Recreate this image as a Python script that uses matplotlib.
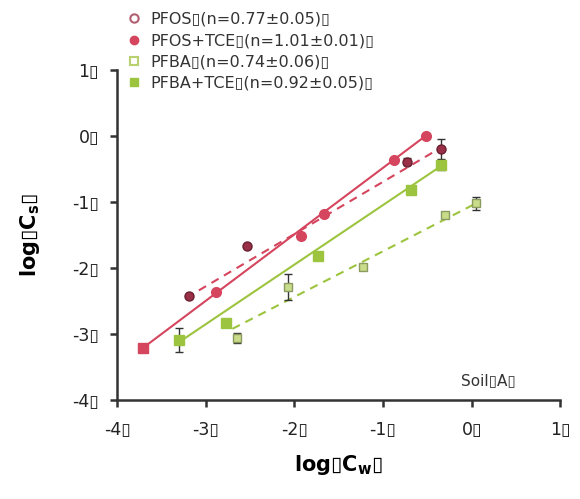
import matplotlib
matplotlib.use("Agg")
import matplotlib.pyplot as plt

B = "\u25AF"

# data
pfos_x = [-3.19, -2.53, -0.73, -0.35]
pfos_y = [-2.42, -1.67, -0.39, -0.20]
pfos_err = [0.0, 0.0, 0.05, 0.15]
pfos_line_x = [-3.22, -0.35]
pfos_line_y = [-2.45, -0.18]

pfostce_x = [-3.71, -2.89, -1.93, -1.67, -0.88, -0.52]
pfostce_y = [-3.21, -2.36, -1.52, -1.18, -0.36, 0.00]
pfostce_line_x = [-3.71, -0.52]
pfostce_line_y = [-3.21, 0.00]

pfba_x = [-2.65, -2.07, -1.23, -0.30, 0.05]
pfba_y = [-3.06, -2.29, -1.98, -1.20, -1.02]
pfba_err = [0.08, 0.20, 0.03, 0.04, 0.10]
pfba_line_x = [-2.70, 0.05]
pfba_line_y = [-2.92, -1.02]

pfbatce_x = [-3.30, -2.77, -1.73, -0.69, -0.35]
pfbatce_y = [-3.09, -2.83, -1.82, -0.82, -0.44]
pfbatce_err = [0.18, 0.03, 0.03, 0.03, 0.08]
pfbatce_line_x = [-3.30, -0.35]
pfbatce_line_y = [-3.12, -0.46]

labels = ["PFOS" + B + "(n=0.77\u00b10.05)" + B,
          "PFOS+TCE" + B + "(n=1.01\u00b10.01)" + B,
          "PFBA" + B + "(n=0.74\u00b10.06)" + B,
          "PFBA+TCE" + B + "(n=0.92\u00b10.05)" + B]

xticks = [-4, -3, -2, -1, 0, 1]
yticks = [-4, -3, -2, -1, 0, 1]

red = "#d5465e"
dred = "#9a3047"
green = "#9cc43e"
lgreen = "#c8dc8a"

fig = plt.figure(figsize=(5.8, 4.99), dpi=100)
ax = fig.add_axes([0.202, 0.198, 0.764, 0.662])

# lines
ax.plot(pfos_line_x, pfos_line_y, color=red, lw=1.5, ls=(0, (4, 3)), zorder=2)
ax.plot(pfostce_line_x, pfostce_line_y, color=red, lw=1.5, zorder=2)
ax.plot(pfba_line_x, pfba_line_y, color=green, lw=1.5, ls=(0, (4, 3)), zorder=2)
ax.plot(pfbatce_line_x, pfbatce_line_y, color=green, lw=1.5, zorder=2)

# points with error bars
ax.errorbar(pfos_x, pfos_y, yerr=pfos_err, fmt="none", ecolor="#333333", capsize=3, lw=1, zorder=3)
h1, = ax.plot(pfos_x, pfos_y, "o", ms=6.5, mfc=dred, mec="#6a2030", zorder=4)
h2, = ax.plot(pfostce_x[1:], pfostce_y[1:], "o", ms=7, mfc=red, mec=red, zorder=4)
ax.plot(pfostce_x[:1], pfostce_y[:1], "s", ms=6.5, mfc=red, mec=red, zorder=4)
ax.errorbar(pfba_x, pfba_y, yerr=pfba_err, fmt="none", ecolor="#333333", capsize=3, lw=1, zorder=3)
h3, = ax.plot(pfba_x, pfba_y, "s", ms=5.5, mfc=lgreen, mec="#8a9a60", zorder=4)
ax.errorbar(pfbatce_x, pfbatce_y, yerr=pfbatce_err, fmt="none", ecolor="#333333", capsize=3, lw=1, zorder=3)
h4, = ax.plot(pfbatce_x, pfbatce_y, "s", ms=7, mfc=green, mec=green, zorder=4)

# legend proxies
l1, = ax.plot([], [], "o", ms=6, mfc="white", mec="#b06070", mew=1.5)
l2, = ax.plot([], [], "o", ms=6, mfc=red, mec=red)
l3, = ax.plot([], [], "s", ms=6, mfc="white", mec="#b8d070", mew=1.5)
l4, = ax.plot([], [], "s", ms=6, mfc=green, mec=green)
leg = ax.legend([l1, l2, l3, l4], labels, loc="upper left",
                bbox_to_anchor=(0.012, 1.195), frameon=False, fontsize=11.5,
                handlelength=0.6, handletextpad=0.75, labelspacing=0.4,
                borderaxespad=0)
for t in leg.get_texts():
    t.set_color("#333333")

ax.set_xlim(-4, 1)
ax.set_ylim(-4, 1)
ax.set_xticks(xticks)
ax.set_yticks(yticks)
ax.set_xticklabels([f"{v}" + B for v in xticks], fontsize=12.5, color="#222222")
ax.set_yticklabels([f"{v}" + B for v in yticks], fontsize=12.5, color="#222222")
for s in ["top", "right"]:
    ax.spines[s].set_visible(False)
for s in ["left", "bottom"]:
    ax.spines[s].set_linewidth(1.8)
    ax.spines[s].set_color("#333333")
ax.tick_params(direction="out", length=5, width=1.8, color="#333333")
ax.tick_params(axis="y", pad=8)
ax.tick_params(axis="x", pad=10)

ax.set_xlabel("log" + B + "C$_{\\mathregular{w}}$" + B, fontsize=15, fontweight="bold", labelpad=10)
ax.set_ylabel("log" + B + "C$_{\\mathregular{s}}$" + B, fontsize=15, fontweight="bold", labelpad=22)
ax.text(0.9, 0.06, "Soil" + B + "A" + B, transform=ax.transAxes, fontsize=11,
        ha="right", va="center", color="#333333")

fig.savefig("out.png", dpi=100)
